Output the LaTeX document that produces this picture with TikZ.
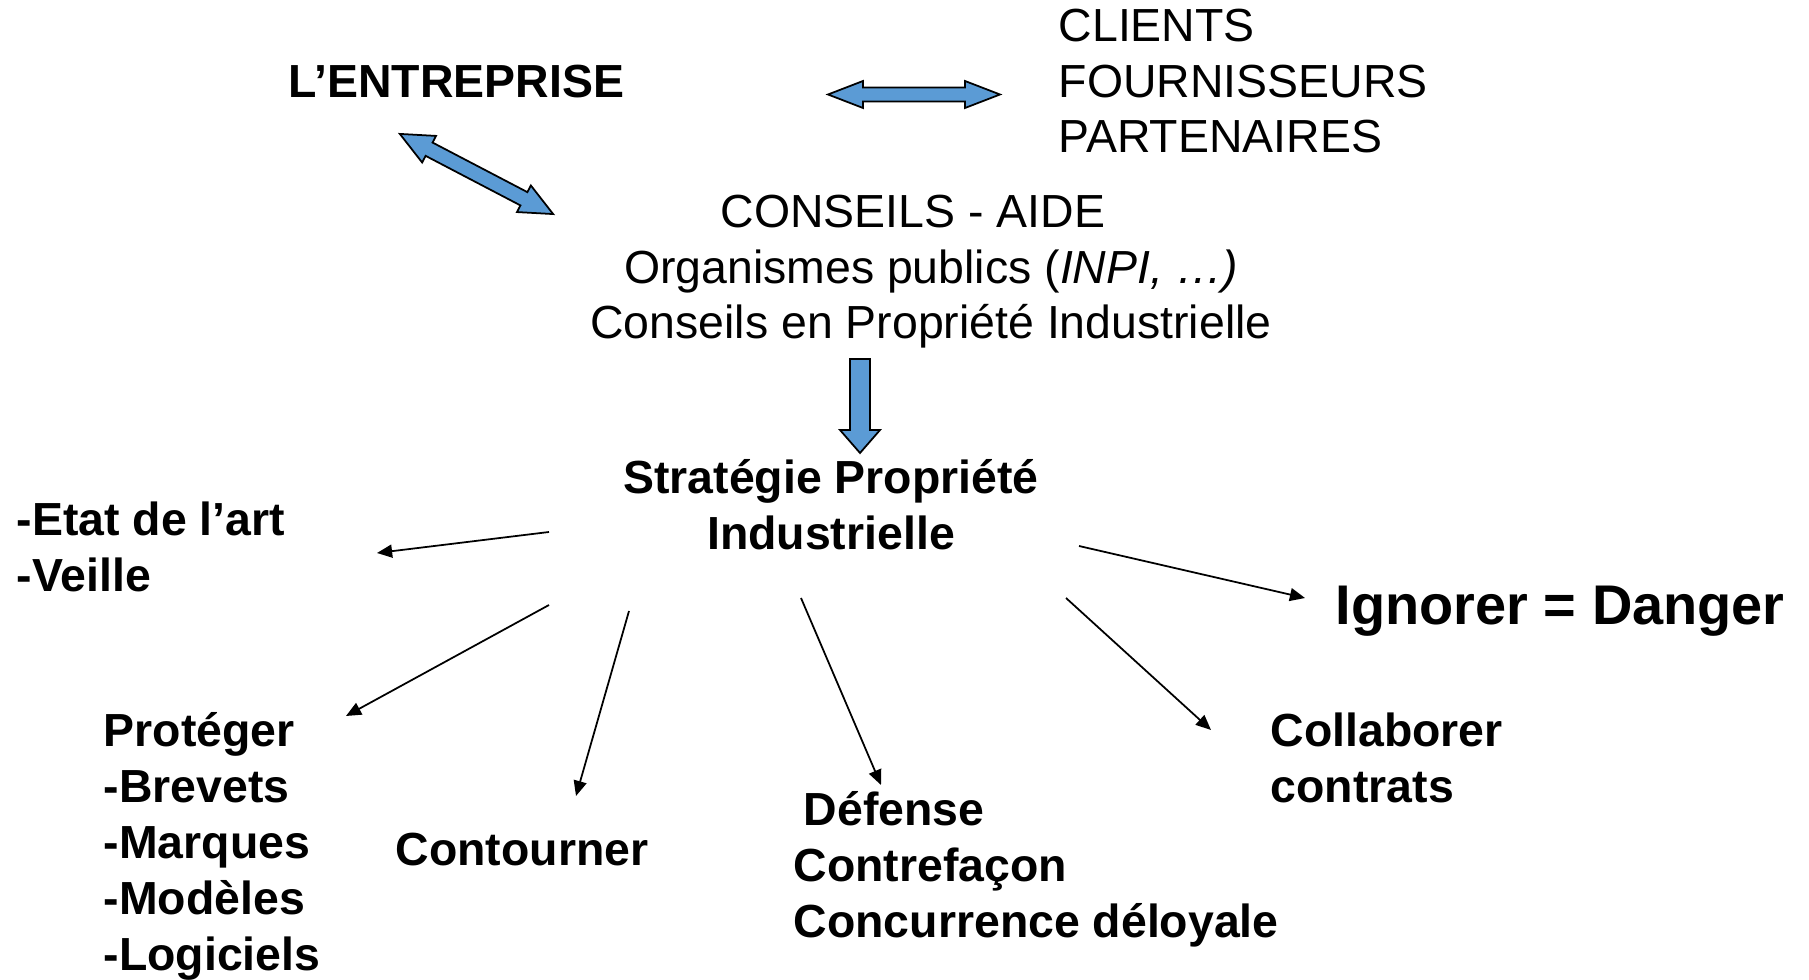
\documentclass[tikz,border=0pt]{standalone}
\usepackage{fontspec}
\setmainfont{Liberation Sans}
\usetikzlibrary{arrows.meta}
\definecolor{bleu}{HTML}{5B9BD5}
\begin{document}
\begin{tikzpicture}[x=0.01cm,y=-0.01cm,
  txt/.style={inner sep=0pt,align=left,anchor=north west,font=\fontsize{13.2}{15.9}\selectfont},
  gras/.style={txt,font=\fontsize{13.2}{15.9}\selectfont\bfseries},
  fleche/.style={-{Triangle[length=4.3pt,width=3.7pt]},line width=0.5pt},
  bloc/.style={draw,fill=bleu,line width=0.5pt,line join=miter}]
\useasboundingbox (0,0) rectangle (1809,980);
% textes
\node[gras] (entreprise) at (288,64) {L’ENTREPRISE};
\node[txt] (clients) at (1058,8) {CLIENTS\\FOURNISSEURS\\PARTENAIRES};
\node[txt,align=center,anchor=north] (conseils) at (931,194) {CONSEILS - AIDE\hspace*{0.36cm}\\Organismes publics (\textit{INPI, …)}\hspace*{0.12cm}\\Conseils en Propriété Industrielle};
\node[gras,align=center,anchor=north] (strategie) at (831,459) {Stratégie Propriété\\Industrielle};
\node[gras] (etat) at (16,501) {-Etat de l’art\\-Veille};
\node[gras] (proteger) at (103,712) {Protéger\\-Brevets\\-Marques\\-Modèles\\-Logiciels};
\node[gras] (contourner) at (395,832) {Contourner};
\node[gras] (defense) at (793,791) {\hspace*{0.1cm}Défense\\Contrefaçon\\Concurrence déloyale};
\node[gras] (collaborer) at (1270,712) {Collaborer\\contrats};
\node[gras,font=\fontsize{15.9}{19}\selectfont\bfseries] (ignorer) at (1335,585) {Ignorer = Danger};
% fleches bleues
\begin{scope}[shift={(914,94.5)}]
\filldraw[bloc] (-86,0) -- (-51,-13.5) -- (-51,-7) -- (51,-7) -- (51,-13.5) -- (86,0) -- (51,13.5) -- (51,7) -- (-51,7) -- (-51,13.5) -- cycle;
\end{scope}
\begin{scope}[shift={(476.5,174)},rotate=-27.6]
\filldraw[bloc] (-86.5,0) -- (-53.5,-15) -- (-53.5,-7.5) -- (53.5,-7.5) -- (53.5,-15) -- (86.5,0) -- (53.5,15) -- (53.5,7.5) -- (-53.5,7.5) -- (-53.5,15) -- cycle;
\end{scope}
\filldraw[bloc] (850,359) -- (870,359) -- (870,430) -- (880,430) -- (860,453) -- (840,430) -- (850,430) -- cycle;
% fleches fines
\coordinate (dEtat) at (549,532); \coordinate (fEtat) at (377,553);
\coordinate (dProt) at (549,605); \coordinate (fProt) at (346,716);
\coordinate (dCont) at (629,611); \coordinate (fCont) at (576,796);
\coordinate (dDef) at (801,598); \coordinate (fDef) at (881,785);
\coordinate (dIgn) at (1079,546); \coordinate (fIgn) at (1305,598);
\coordinate (dCol) at (1066,598); \coordinate (fCol) at (1211,730);
\draw[fleche] (dEtat) -- (fEtat);
\draw[fleche] (dProt) -- (fProt);
\draw[fleche] (dCont) -- (fCont);
\draw[fleche] (dDef) -- (fDef);
\draw[fleche] (dIgn) -- (fIgn);
\draw[fleche] (dCol) -- (fCol);
\end{tikzpicture}
\end{document}
